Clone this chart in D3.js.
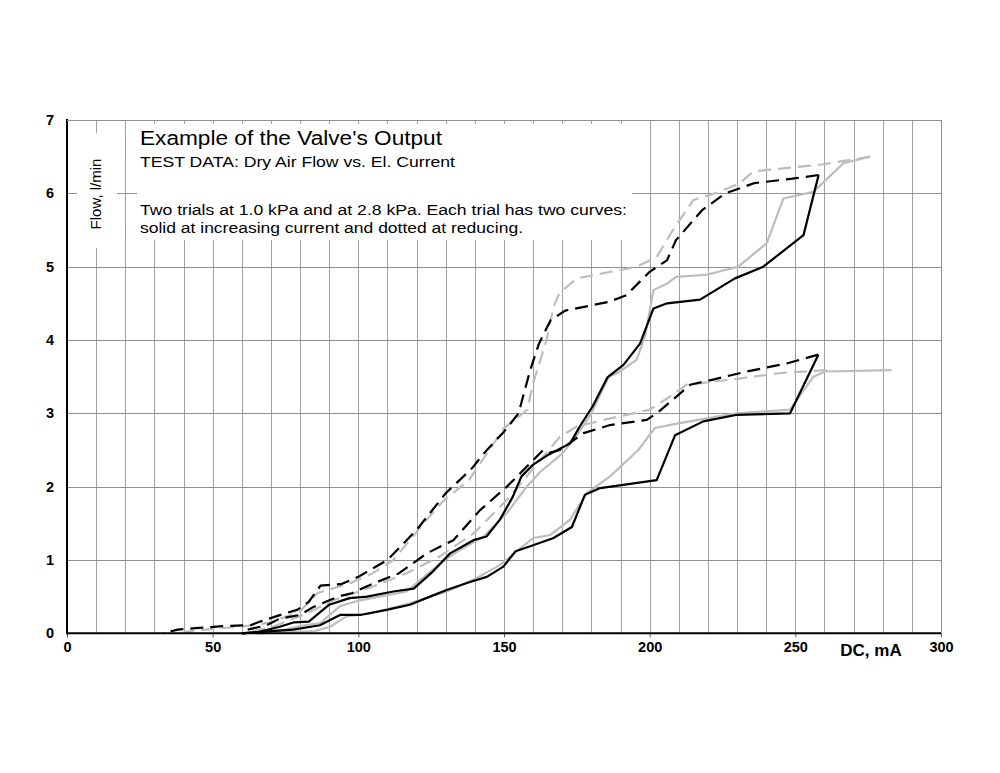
<!DOCTYPE html>
<html>
<head>
<meta charset="utf-8">
<script src="https://cdn.jsdelivr.net/npm/d3@7"></script>
<style>
  html, body { margin: 0; padding: 0; background: #fff; }
  svg { display: block; font-family: "Liberation Sans", Arial, sans-serif; }
</style>
</head>
<body>
<svg id="chart" width="1000" height="773"></svg>
<script>
// ---------- data (x: DC current, mA; y: flow, l/min) ----------
const xTicks = [0, 50, 100, 150, 200, 250, 300];
const yTicks = [0, 1, 2, 3, 4, 5, 6, 7];

// 2.8 kPa trial — black
const upperBlackSolidX = [60, 66, 73, 78, 83, 90, 97, 103, 112, 119, 125, 131.5, 139.5, 144, 148.6, 153, 156, 160, 164.6, 172.7, 176, 180.5, 185.5, 191, 196.7, 201.3, 206, 217.3, 229.3, 239, 252.8, 258];
const upperBlackSolidY = [0, 0.02, 0.09, 0.15, 0.16, 0.39, 0.48, 0.5, 0.57, 0.61, 0.82, 1.09, 1.27, 1.32, 1.55, 1.86, 2.14, 2.3, 2.42, 2.59, 2.82, 3.1, 3.49, 3.66, 3.95, 4.43, 4.5, 4.55, 4.84, 5.0, 5.43, 6.25];
const upperBlackDashedX = [258, 249, 236, 226, 218, 209, 206, 200, 192, 186, 171, 166, 162, 159, 155, 150, 143, 139, 130, 120, 110, 100, 94, 87, 83, 79, 74, 67, 63, 54, 44, 38, 33];
const upperBlackDashedY = [6.25, 6.2, 6.14, 6.0, 5.77, 5.36, 5.09, 4.93, 4.61, 4.52, 4.4, 4.27, 3.95, 3.59, 3.0, 2.75, 2.45, 2.25, 1.91, 1.41, 1.0, 0.77, 0.67, 0.65, 0.43, 0.32, 0.26, 0.17, 0.11, 0.1, 0.07, 0.05, 0];
// 2.8 kPa trial — grey
const upperGreySolidX = [65, 75, 80, 87, 93.7, 100.6, 116.6, 128, 135, 143, 151, 157.8, 162.4, 170, 175, 180, 186, 189, 195.5, 198.4, 200.1, 201.3, 206, 209, 219.6, 230.4, 240.2, 245.9, 256.2, 266.5, 275.7];
const upperGreySolidY = [0, 0.05, 0.1, 0.14, 0.37, 0.45, 0.57, 0.95, 1.14, 1.32, 1.64, 2.0, 2.2, 2.45, 2.7, 3.0, 3.5, 3.55, 3.73, 4.05, 4.41, 4.68, 4.77, 4.86, 4.89, 5.0, 5.32, 5.93, 6.02, 6.41, 6.5];
const upperGreyDashedX = [275.7, 258.5, 235.6, 231, 224, 215, 208, 202.4, 195.6, 184, 175, 169, 167, 164.6, 160, 158, 155, 150, 138, 129, 123.5, 112, 105, 97, 86, 80, 70, 60, 50, 40];
const upperGreyDashedY = [6.5, 6.39, 6.3, 6.14, 6.02, 5.91, 5.5, 5.13, 5.0, 4.91, 4.84, 4.64, 4.45, 4.0, 3.41, 3.05, 2.95, 2.8, 2.09, 1.8, 1.55, 1.0, 0.82, 0.68, 0.55, 0.3, 0.15, 0.09, 0.06, 0.02];

// 1.0 kPa trial — black
const lowerBlackSolidX = [60, 77.6, 86.8, 93.7, 100.6, 109.7, 117.7, 124.6, 130.3, 138.3, 144.1, 149.8, 154, 160, 167, 173.3, 177.8, 183, 202.4, 208.7, 218.4, 230, 248.2, 257.9];
const lowerBlackSolidY = [0, 0.05, 0.11, 0.25, 0.25, 0.32, 0.39, 0.5, 0.59, 0.7, 0.77, 0.91, 1.12, 1.2, 1.3, 1.45, 1.89, 1.98, 2.09, 2.7, 2.89, 2.98, 3.0, 3.8];
const lowerBlackDashedX = [257.9, 247, 233.3, 220.7, 213.9, 209.3, 202.4, 199, 186.4, 177.3, 169.2, 165.5, 163.5, 159, 151, 141.8, 132.6, 123.5, 114, 104, 98, 93, 84.6, 80, 73, 68.6, 62];
const lowerBlackDashedY = [3.8, 3.68, 3.57, 3.45, 3.39, 3.23, 3.0, 2.91, 2.84, 2.73, 2.5, 2.46, 2.5, 2.32, 2.0, 1.68, 1.27, 1.09, 0.82, 0.66, 0.55, 0.5, 0.36, 0.25, 0.2, 0.11, 0.05];
// 1.0 kPa trial — grey
const lowerGreySolidX = [65, 85, 90.3, 96, 104, 117.7, 130.3, 139.5, 148.6, 154.4, 160.1, 165.8, 172.7, 178.4, 186.4, 196.1, 201.8, 209.3, 219.6, 230, 248.2, 256.2, 260.2, 283];
const lowerGreySolidY = [0, 0.03, 0.09, 0.23, 0.27, 0.41, 0.57, 0.73, 0.93, 1.12, 1.3, 1.34, 1.55, 1.91, 2.14, 2.5, 2.8, 2.86, 2.93, 3.0, 3.05, 3.5, 3.57, 3.59];
const lowerGreyDashedX = [260.8, 245, 230, 212.7, 207, 200.1, 186.4, 175, 169.2, 162.4, 151, 139.5, 128, 116.6, 105.2, 91.4, 82.3, 70, 60];
const lowerGreyDashedY = [3.59, 3.55, 3.47, 3.39, 3.23, 3.05, 2.93, 2.82, 2.68, 2.36, 1.82, 1.36, 1.05, 0.82, 0.64, 0.45, 0.27, 0.08, 0];

const seriesNames = ["upperGreySolid", "upperGreyDashed", "lowerGreySolid", "lowerGreyDashed",
                     "upperBlackSolid", "upperBlackDashed", "lowerBlackSolid", "lowerBlackDashed"];

const titleText = "Example of the Valve's Output";
const subtitleText = "TEST DATA: Dry Air Flow vs. El. Current";
const noteLines = ["Two trials at 1.0 kPa and at 2.8 kPa. Each trial has two curves:",
                   "solid at increasing current and dotted at reducing."];
const xAxisLabel = "DC, mA";
const yAxisLabel = "Flow, l/min";

// ---------- build ----------
const seriesData = {
  upperBlackSolid: [upperBlackSolidX, upperBlackSolidY],
  upperBlackDashed: [upperBlackDashedX, upperBlackDashedY],
  upperGreySolid: [upperGreySolidX, upperGreySolidY],
  upperGreyDashed: [upperGreyDashedX, upperGreyDashedY],
  lowerBlackSolid: [lowerBlackSolidX, lowerBlackSolidY],
  lowerBlackDashed: [lowerBlackDashedX, lowerBlackDashedY],
  lowerGreySolid: [lowerGreySolidX, lowerGreySolidY],
  lowerGreyDashed: [lowerGreyDashedX, lowerGreyDashedY]
};

const svg = d3.select("#chart");
const x = d3.scaleLinear().domain([0, 300]).range([67, 941]);
const y = d3.scaleLinear().domain([0, 7]).range([633.3, 120]);

// gridlines
const grid = svg.append("g");
grid.selectAll("line.v").data(d3.range(10, 300, 10)).join("line")
  .attr("x1", d => Math.round(x(d)) + 0.5).attr("x2", d => Math.round(x(d)) + 0.5)
  .attr("y1", y(7)).attr("y2", y(0))
  .attr("stroke", "#a0a0a0").attr("stroke-width", 1);
grid.selectAll("line.h").data(d3.range(1, 8)).join("line")
  .attr("x1", x(0)).attr("x2", x(300))
  .attr("y1", d => Math.round(y(d)) + 0.5).attr("y2", d => Math.round(y(d)) + 0.5)
  .attr("stroke", "#909090").attr("stroke-width", 1);
// right border
svg.append("line").attr("x1", Math.round(x(300)) + 0.5).attr("x2", Math.round(x(300)) + 0.5)
  .attr("y1", y(7)).attr("y2", y(0)).attr("stroke", "#909090");

// white text boxes (cover gridlines)
svg.append("rect").attr("x", 77).attr("y", 133).attr("width", 40).attr("height", 115).attr("fill", "#fff");
svg.append("rect").attr("x", 137).attr("y", 124).attr("width", 495).attr("height", 116).attr("fill", "#fff");

// lines
const line = d3.line().x(d => x(d[0])).y(d => y(d[1]));
seriesNames.forEach(name => {
  const [xs, ys] = seriesData[name];
  const pts = xs.map((v, i) => [v, ys[i]]);
  const grey = name.includes("Grey");
  const dashed = name.includes("Dashed");
  svg.append("path").datum(pts)
    .attr("d", line)
    .attr("fill", "none")
    .attr("stroke", grey ? "#bdbdbd" : "#000")
    .attr("stroke-width", 2.2)
    .attr("stroke-linejoin", "round")
    .attr("stroke-dasharray", dashed ? "13,7" : null);
});

// axes
const xAxis = d3.axisBottom(x).tickValues(xTicks).tickFormat(d3.format("d"))
  .tickSize(4).tickSizeOuter(0).tickPadding(4);
const gx = svg.append("g").attr("transform", `translate(0,${y(0)})`).call(xAxis);
gx.select(".domain").remove();
gx.selectAll(".tick line").attr("stroke", "#555");
gx.selectAll(".tick text").attr("font-size", 14.5).attr("font-weight", "bold")
  .attr("font-family", "Liberation Sans, Arial, sans-serif").attr("fill", "#000");

const yAxis = d3.axisLeft(y).tickValues(yTicks).tickFormat(d3.format("d")).tickSize(0).tickPadding(13);
const gy = svg.append("g").attr("transform", `translate(${x(0)},0)`).call(yAxis);
gy.select(".domain").remove();
gy.selectAll(".tick text").attr("font-size", 14.5).attr("font-weight", "bold")
  .attr("font-family", "Liberation Sans, Arial, sans-serif").attr("fill", "#000");

// axis lines
svg.append("line").attr("x1", x(0)).attr("x2", x(300)).attr("y1", y(0)).attr("y2", y(0))
  .attr("stroke", "#000").attr("stroke-width", 2);
svg.append("line").attr("x1", x(0)).attr("x2", x(0)).attr("y1", y(7) - 1).attr("y2", y(0) + 1)
  .attr("stroke", "#000").attr("stroke-width", 2);
// top border
svg.append("line").attr("x1", x(0)).attr("x2", x(300)).attr("y1", Math.round(y(7)) + 0.5).attr("y2", Math.round(y(7)) + 0.5)
  .attr("stroke", "#909090");

// texts
svg.append("text").attr("x", 140).attr("y", 145).attr("font-size", 19.5)
  .attr("textLength", 302).attr("lengthAdjust", "spacingAndGlyphs").text(titleText);
svg.append("text").attr("x", 140).attr("y", 167).attr("font-size", 15)
  .attr("textLength", 315).attr("lengthAdjust", "spacingAndGlyphs").text(subtitleText);
svg.append("text").attr("x", 140).attr("y", 215).attr("font-size", 15.5)
  .attr("textLength", 487).attr("lengthAdjust", "spacingAndGlyphs").text(noteLines[0]);
svg.append("text").attr("x", 140).attr("y", 233).attr("font-size", 15.5)
  .attr("textLength", 383).attr("lengthAdjust", "spacingAndGlyphs").text(noteLines[1]);

svg.append("text").attr("transform", "translate(101,194) rotate(-90)")
  .attr("text-anchor", "middle").attr("font-size", 15).text(yAxisLabel);

svg.append("text").attr("x", 871).attr("y", 656).attr("text-anchor", "middle")
  .attr("font-size", 17).attr("font-weight", "bold").text(xAxisLabel);
</script>
</body>
</html>
